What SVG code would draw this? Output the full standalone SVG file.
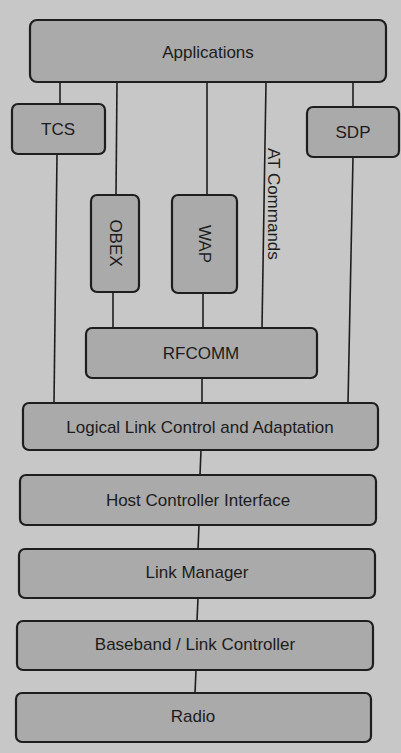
<svg xmlns="http://www.w3.org/2000/svg" width="401" height="753" viewBox="0 0 401 753">
<style>
.box{fill:#aaaaaa;stroke:#1e1e1e;stroke-width:2.2}
.lbl{font-family:"Liberation Sans",Arial,sans-serif;font-size:17px;fill:#1c1c1c;text-anchor:middle;dominant-baseline:central}
.conn line{stroke:#1e1e1e;stroke-width:1.6}
</style>
<rect x="0" y="0" width="401" height="753" fill="#c7c7c7"/>
<g class="conn" id="connectors">
<line x1="60" y1="82" x2="60" y2="104"/>
<line x1="57" y1="154" x2="54" y2="403"/>
<line x1="117" y1="82" x2="116" y2="195"/>
<line x1="113" y1="292" x2="113" y2="328"/>
<line x1="207" y1="82" x2="207" y2="195"/>
<line x1="203" y1="293" x2="203" y2="328"/>
<line x1="266" y1="82" x2="262" y2="328"/>
<line x1="353" y1="82" x2="353" y2="107"/>
<line x1="353" y1="157" x2="348" y2="403"/>
<line x1="202" y1="378" x2="202" y2="403"/>
<line x1="201" y1="450" x2="200" y2="475"/>
<line x1="199" y1="525" x2="198" y2="549"/>
<line x1="198" y1="598" x2="197" y2="621"/>
<line x1="196" y1="670" x2="195" y2="693"/>
</g>
<text class="lbl" transform="translate(268,148) rotate(90)" style="text-anchor:start;dominant-baseline:auto">AT Commands</text>
<g id="applications"><rect class="box" x="30" y="20" width="356" height="62" rx="7"/><text class="lbl" x="208" y="52">Applications</text></g>
<g id="tcs"><rect class="box" x="12" y="104" width="93" height="50" rx="6"/><text class="lbl" x="58" y="129">TCS</text></g>
<g id="sdp"><rect class="box" x="307" y="107" width="92" height="50" rx="6"/><text class="lbl" x="353" y="132">SDP</text></g>
<g id="obex"><rect class="box" x="91" y="195" width="48" height="97" rx="6"/><text class="lbl" transform="translate(115,243) rotate(90)">OBEX</text></g>
<g id="wap"><rect class="box" x="172" y="195" width="65" height="98" rx="6"/><text class="lbl" transform="translate(204,244) rotate(90)">WAP</text></g>
<g id="rfcomm"><rect class="box" x="86" y="328" width="231" height="50" rx="6"/><text class="lbl" x="201" y="353">RFCOMM</text></g>
<g id="l2cap"><rect class="box" x="23" y="403" width="355" height="47" rx="6"/><text class="lbl" x="200" y="427">Logical Link Control and Adaptation</text></g>
<g id="hci"><rect class="box" x="20" y="475" width="356" height="50" rx="6"/><text class="lbl" x="198" y="500">Host Controller Interface</text></g>
<g id="lm"><rect class="box" x="19" y="549" width="356" height="49" rx="6"/><text class="lbl" x="197" y="572">Link Manager</text></g>
<g id="baseband"><rect class="box" x="17" y="621" width="356" height="49" rx="6"/><text class="lbl" x="195" y="644">Baseband / Link Controller</text></g>
<g id="radio"><rect class="box" x="16" y="693" width="355" height="49" rx="6"/><text class="lbl" x="193" y="716">Radio</text></g>
</svg>
